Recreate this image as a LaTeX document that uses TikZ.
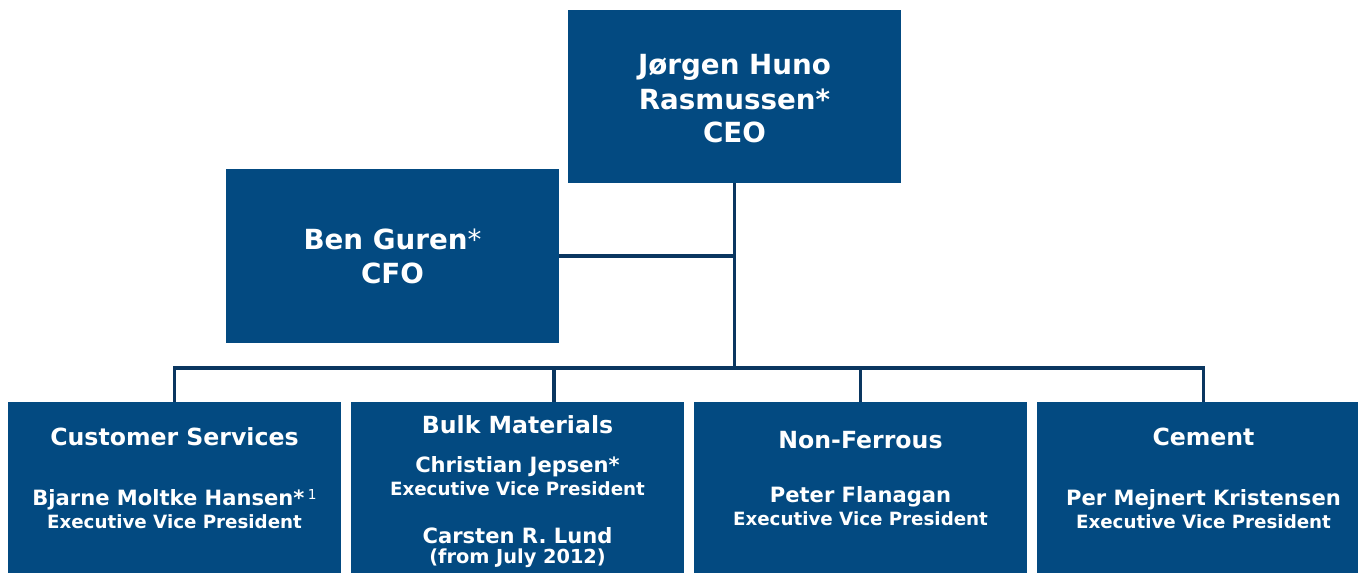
\documentclass[tikz,border=0pt]{standalone}
\usepackage{fontspec}
\setmainfont{DejaVu Sans}
\definecolor{boxblue}{RGB}{3,74,129}
\definecolor{linenavy}{RGB}{10,54,96}
\newcommand\fTop{\fontsize{20.8}{24}\selectfont}
\newcommand\fHead{\fontsize{17.7}{21}\selectfont}
\newcommand\fName{\fontsize{15.8}{19}\selectfont}
\newcommand\fRole{\fontsize{13.7}{16}\selectfont}
\newcommand\fDate{\fontsize{14.5}{17}\selectfont}
\begin{document}
\begin{tikzpicture}[x=0.75pt,y=-0.75pt,
  box/.style={fill=boxblue, draw=none, minimum width=249.75pt, inner sep=0pt, outer sep=0pt},
  conn/.style={draw=linenavy, line width=2.6pt},
  txt/.style={text=white, anchor=base, inner sep=0pt, outer sep=0pt}]
\useasboundingbox (0,0) rectangle (1358,572);
\clip (0,0) rectangle (1358,572);
% boxes
\node[box, minimum height=129.75pt] (ceo) at (734.5,96.5) {};
\node[box, minimum height=130.5pt] (cfo) at (392.5,256) {};
\node[box, minimum height=135pt] (cs)  at (174.5,492) {};
\node[box, minimum height=135pt] (bm)  at (517.5,492) {};
\node[box, minimum height=135pt] (nf)  at (860.5,492) {};
\node[box, minimum height=135pt] (cem) at (1203.5,492) {};
% connectors
\coordinate (bar) at (0,368);
\coordinate (bmtap) at ([xshift=27.4pt]bm.north);
\draw[conn] (ceo.south) -- (ceo.south |- bar);
\draw[conn] (cfo.east) -- (cfo.east -| ceo.south);
\draw[conn] (cs.north) |- (ceo.south |- bar) -| (cem.north);
\draw[conn] (bmtap) -- (bmtap |- bar);
\draw[conn] (nf.north) -- (nf.north |- bar);
% CEO
\node[txt, font=\bfseries\fTop] (ceo1) at (734.5,74) {Jørgen Huno};
\node[txt, font=\bfseries\fTop] (ceo2) at (734.5,109) {Rasmussen*};
\node[txt, font=\bfseries\fTop] (ceo3) at (734.5,142) {CEO};
% CFO
\node[txt, font=\bfseries\fTop] (cfo1) at (392.5,249) {Ben Guren{\mdseries*}};
\node[txt, font=\bfseries\fTop] (cfo2) at (392.5,283) {CFO};
% Customer Services
\node[txt, font=\bfseries\fHead] (cs1) at (174.5,445) {Customer Services};
\node[txt, font=\bfseries\fName] (cs2) at (174.5,505) {Bjarne Moltke Hansen*\,\raisebox{4pt}{\mdseries\fontsize{10.3}{12}\selectfont 1}};
\node[txt, font=\bfseries\fRole] (cs3) at (174.5,528) {Executive Vice President};
% Bulk Materials
\node[txt, font=\bfseries\fHead] (bm1) at (517.5,433) {Bulk Materials};
\node[txt, font=\bfseries\fName] (bm2) at (517.5,472) {Christian Jepsen*};
\node[txt, font=\bfseries\fRole] (bm3) at (517.5,495) {Executive Vice President};
\node[txt, font=\bfseries\fName] (bm4) at (517.5,543) {Carsten R. Lund};
\node[txt, font=\bfseries\fDate] (bm5) at (517.5,563) {(from July 2012)};
% Non-Ferrous
\node[txt, font=\bfseries\fHead] (nf1) at (860.5,448) {Non-Ferrous};
\node[txt, font=\bfseries\fName] (nf2) at (860.5,502) {Peter Flanagan};
\node[txt, font=\bfseries\fRole] (nf3) at (860.5,525) {Executive Vice President};
% Cement
\node[txt, font=\bfseries\fHead] (cem1) at (1203.5,445) {Cement};
\node[txt, font=\bfseries\fName] (cem2) at (1203.5,505) {Per Mejnert Kristensen};
\node[txt, font=\bfseries\fRole] (cem3) at (1203.5,528) {Executive Vice President};
\end{tikzpicture}
\end{document}
